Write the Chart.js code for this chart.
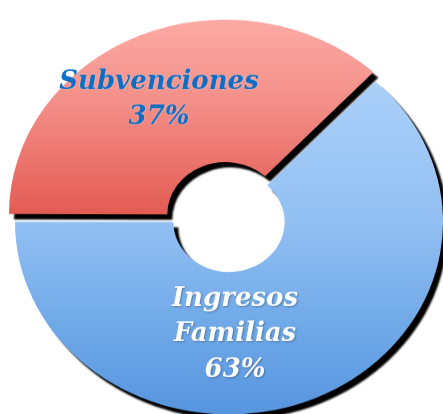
<!DOCTYPE html>
<html>
<head>
<meta charset="utf-8">
<script src="https://cdn.jsdelivr.net/npm/chart.js@4.4.1/dist/chart.umd.min.js"></script>
<style>
html,body{margin:0;padding:0;background:#ffffff;overflow:hidden;}
#frame{width:443px;height:414px;overflow:hidden;position:relative;background:#fff;}
#stretch{position:absolute;left:0;top:0;width:443px;height:460px;transform:scaleY(0.9);transform-origin:0 0;}
</style>
</head>
<body>
<div id="frame"><div id="stretch"><canvas id="c"></canvas></div></div>
<script>
// ---- data ----
const categories = ['Subvenciones', 'Ingresos Familias'];
const values = [37, 63];

// ---- style ----
const SY = 0.9;                       // vertical squash of the whole drawing
const LABEL_POS = [[-0.327, -0.632], [0.028, 0.585]]; // fraction of outer radius from centre
const LABEL_COLORS = ['#0f6ec3', '#ffffff'];

function redGrad(ctx) {
  const g = ctx.createLinearGradient(0, 18, 0, 246);
  g.addColorStop(0, '#ffc8c4');
  g.addColorStop(0.05, '#fcaaa5');
  g.addColorStop(0.45, '#f48f89');
  g.addColorStop(1, '#e35c54');
  return g;
}
function blueGrad(ctx) {
  const g = ctx.createLinearGradient(0, 67, 0, 460);
  g.addColorStop(0, '#c2ddfd');
  g.addColorStop(0.08, '#a9cff9');
  g.addColorStop(0.45, '#93c0f3');
  g.addColorStop(0.75, '#6fa9e8');
  g.addColorStop(1, '#5795df');
  return g;
}

const shadowPlugin = {
  id: 'ringShadow',
  beforeDatasetsDraw(chart) {
    const ctx = chart.ctx;
    ctx.save();
    ctx.shadowColor = '#000000';
    ctx.shadowOffsetX = 5;
    ctx.shadowOffsetY = 6;
    ctx.shadowBlur = 2;
  },
  afterDatasetsDraw(chart) {
    chart.ctx.restore();
  }
};

const labelPlugin = {
  id: 'sliceLabels',
  afterDraw(chart) {
    const meta = chart.getDatasetMeta(0);
    const ctx = chart.ctx;
    meta.data.forEach((arc, i) => {
      const p = arc.getProps(['x', 'y', 'outerRadius'], true);
      const lx = p.x + LABEL_POS[i][0] * p.outerRadius;
      const ly = p.y + LABEL_POS[i][1] * p.outerRadius;
      const lines = categories[i].split(' ').concat([values[i] + '%']);
      ctx.save();
      ctx.translate(lx, ly);
      ctx.scale(1, 1 / SY);
      ctx.font = 'italic bold 26px "DejaVu Serif"';
      ctx.textAlign = 'center';
      ctx.textBaseline = 'middle';
      ctx.fillStyle = LABEL_COLORS[i];
      if (i === 1) {
        ctx.shadowColor = 'rgba(40,60,90,0.45)';
        ctx.shadowOffsetX = 1; ctx.shadowOffsetY = 1; ctx.shadowBlur = 2;
      } else {
        ctx.shadowColor = 'rgba(255,255,255,0.6)';
        ctx.shadowBlur = 2;
      }
      const lh = 35.5;
      lines.forEach((t, k) => ctx.fillText(t, 0, (k - (lines.length - 1) / 2) * lh));
      ctx.restore();
    });
  }
};

new Chart(document.getElementById('c'), {
  type: 'doughnut',
  data: {
    labels: categories,
    datasets: [{
      data: values,
      backgroundColor: (c) => c.dataIndex === 0 ? redGrad(c.chart.ctx) : blueGrad(c.chart.ctx),
      borderWidth: 0,
      offset: [36, 0],
      clip: false
    }]
  },
  options: {
    responsive: true,
    maintainAspectRatio: false,
    animation: false,
    rotation: -90,
    cutout: '26%',
    radius: 214,
    layout: { padding: { left: 15, top: 33, right: 0, bottom: 0 } },
    plugins: { legend: { display: false }, tooltip: { enabled: false } },
    events: []
  },
  plugins: [shadowPlugin, labelPlugin]
});
</script>
</body>
</html>
